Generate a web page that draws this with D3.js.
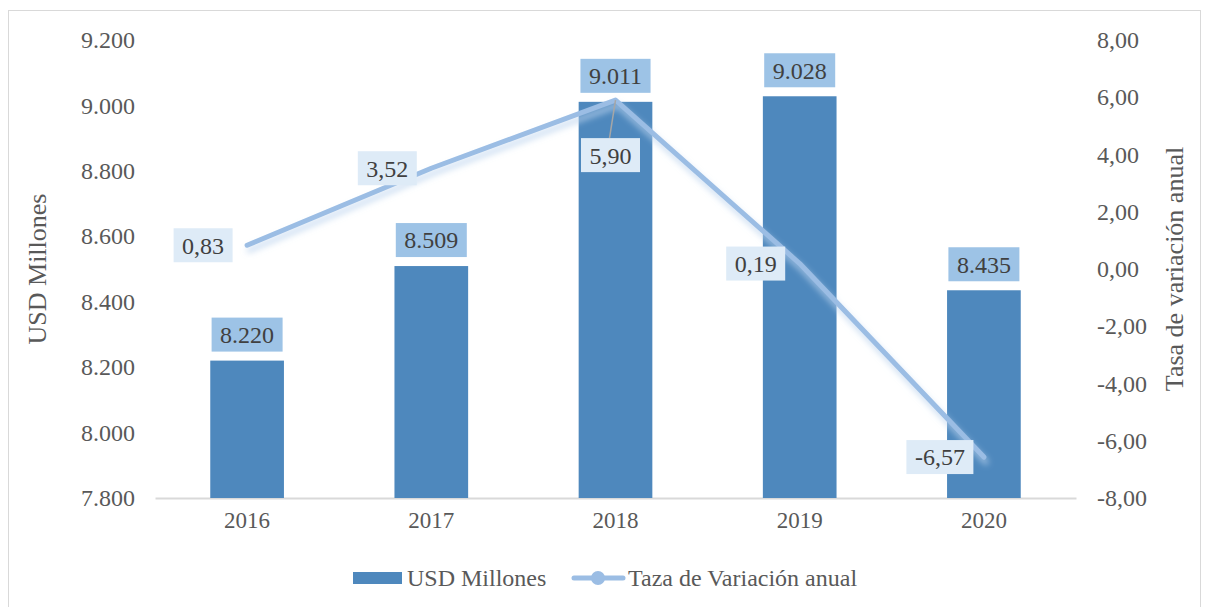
<!DOCTYPE html>
<html>
<head>
<meta charset="utf-8">
<script src="https://cdn.jsdelivr.net/npm/d3@7"></script>
<style>
  body { margin: 0; background: #fff; }
</style>
</head>
<body>
<div id="chart"></div>
<script>
// values
const years = ['2016', '2017', '2018', '2019', '2020']
const usdMillones = [8220, 8509, 9011, 9028, 8435]
const tasaVariacion = [0.83, 3.52, 5.90, 0.19, -6.57]
const leftTicks = [7800, 8000, 8200, 8400, 8600, 8800, 9000, 9200]
const rightTicks = [-8, -6, -4, -2, 0, 2, 4, 6, 8]

const FONT = '"Liberation Serif", "Times New Roman", "DejaVu Serif", serif'

const W = 1206, H = 607
const margin = { top: 40, right: 130, bottom: 109, left: 155 }
const width = W - margin.left - margin.right,
      height = H - margin.top - margin.bottom

const es = d3.formatLocale({ decimal: ',', thousands: '.', grouping: [3], currency: ['', ''], minus: '-' })
const fmtInt = es.format(',.0f'), fmtDec = es.format('.2f')

const svg = d3.select('#chart').append('svg')
    .attr('width', W).attr('height', H)
    .style('font-family', FONT)

svg.append('rect')
    .attr('x', 8.5).attr('y', 10.5).attr('width', 1192).attr('height', 600)
    .attr('fill', '#fff').attr('stroke', '#d9d9d9')

const defs = svg.append('defs')
const shadow = defs.append('filter').attr('id', 'shadow')
    .attr('x', '-10%').attr('y', '-10%').attr('width', '120%').attr('height', '130%')
shadow.append('feDropShadow')
    .attr('dx', 2).attr('dy', 5).attr('stdDeviation', 3)
    .attr('flood-color', '#bcd3ee').attr('flood-opacity', 0.8)

const g = svg.append('g').attr('transform', `translate(${margin.left},${margin.top})`)

const x = d3.scaleBand().domain(years).range([0, width]).paddingInner(0.6).paddingOuter(0.3)
const yL = d3.scaleLinear().domain([7800, 9200]).range([height, 0])
const yR = d3.scaleLinear().domain([-8, 8]).range([height, 0])

function styleAxis(sel, size) {
  sel.attr('font-family', null).attr('font-size', null)
  sel.selectAll('text').style('font-family', FONT).style('font-size', size + 'px').attr('fill', '#595959')
}

// left axis
const axL = g.append('g').call(d3.axisLeft(yL).tickValues(leftTicks).tickFormat(fmtInt).tickSize(0).tickPadding(20))
axL.select('.domain').remove()
styleAxis(axL, 24)

// right axis
const axR = g.append('g').attr('transform', `translate(${width},0)`)
    .call(d3.axisRight(yR).tickValues(rightTicks).tickFormat(fmtDec).tickSize(0).tickPadding(21))
axR.select('.domain').remove()
styleAxis(axR, 24)

// x axis
const axX = g.append('g').attr('transform', `translate(0,${height})`)
    .call(d3.axisBottom(x).tickSize(0).tickPadding(14))
axX.select('.domain').attr('stroke', '#d9d9d9').attr('stroke-width', 2)
styleAxis(axX, 23)

// axis titles
svg.append('text')
    .attr('transform', `translate(46,${margin.top + height / 2}) rotate(-90)`)
    .attr('text-anchor', 'middle').style('font-size', '26px').attr('fill', '#595959')
    .text('USD Millones')
svg.append('text')
    .attr('transform', `translate(1183,${margin.top + height / 2}) rotate(-90)`)
    .attr('text-anchor', 'middle').style('font-size', '26px').attr('fill', '#595959')
    .text('Tasa de variación anual')

// bars
g.selectAll('.bar').data(usdMillones).join('rect')
    .attr('class', 'bar')
    .attr('x', (d, i) => x(years[i]))
    .attr('width', x.bandwidth())
    .attr('y', d => yL(d))
    .attr('height', d => height - yL(d))
    .attr('fill', '#4e88bd')

// line
const line = d3.line()
    .x((d, i) => x(years[i]) + x.bandwidth() / 2)
    .y(d => yR(d))
g.append('path').datum(tasaVariacion)
    .attr('d', line)
    .attr('fill', 'none')
    .attr('stroke', '#9bbde4')
    .attr('stroke-width', 5)
    .attr('stroke-linecap', 'round')
    .attr('stroke-linejoin', 'round')
    .attr('filter', 'url(#shadow)')

// label helper: boxed text
function boxLabel(cx, cy, txt, fill) {
  const lg = g.append('g')
  const t = lg.append('text')
      .attr('x', cx).attr('y', cy).attr('dy', '0.35em')
      .attr('text-anchor', 'middle').style('font-size', '24px').attr('fill', '#404040')
      .text(txt)
  const bb = t.node().getBBox()
  lg.insert('rect', 'text')
      .attr('x', bb.x - 8.5).attr('y', cy - 17)
      .attr('width', bb.width + 17).attr('height', 34)
      .attr('fill', fill)
}

// bar labels
usdMillones.forEach((d, i) => {
  boxLabel(x(years[i]) + x.bandwidth() / 2, yL(d) - 26, fmtInt(d), '#9dc3e6')
})

// line labels (2018 sits below the point with a leader line)
tasaVariacion.forEach((d, i) => {
  const px = x(years[i]) + x.bandwidth() / 2, py = yR(d)
  if (i === 2) {
    g.append('line')
        .attr('x1', px).attr('y1', py).attr('x2', px - 6).attr('y2', py + 38)
        .attr('stroke', '#a6a6a6').attr('stroke-width', 1.5)
    boxLabel(px - 5, py + 55, fmtDec(d), '#deebf7')
  } else {
    boxLabel(px - 44, py, fmtDec(d), '#deebf7')
  }
})

// legend
const leg = svg.append('g').attr('transform', 'translate(0,578)')
leg.append('rect').attr('x', 353).attr('y', -6).attr('width', 49).attr('height', 12).attr('fill', '#4e88bd')
leg.append('text').attr('x', 407).attr('y', 0).attr('dy', '0.35em')
    .style('font-size', '24px').attr('fill', '#595959').text('USD Millones')
leg.append('line').attr('x1', 574).attr('x2', 623).attr('y1', 0).attr('y2', 0)
    .attr('stroke', '#9bbde4').attr('stroke-width', 5).attr('stroke-linecap', 'round')
leg.append('circle').attr('cx', 598).attr('cy', 0).attr('r', 7).attr('fill', '#9bbde4')
leg.append('text').attr('x', 628).attr('y', 0).attr('dy', '0.35em')
    .style('font-size', '24px').attr('fill', '#595959').text('Taza de Variación anual')
</script>
</body>
</html>
